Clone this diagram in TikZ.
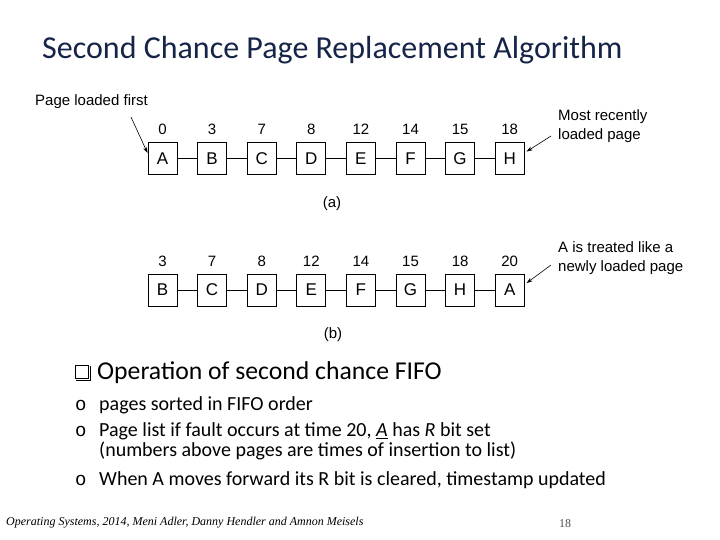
\documentclass[tikz,border=0pt]{standalone}
\usepackage{fontspec}
\setmainfont{Carlito}
\newfontfamily\figfont{Liberation Sans}
\newfontfamily\footfont{Liberation Serif}
\newfontfamily\ringfont{Liberation Mono}
\usetikzlibrary{arrows.meta,positioning}
\definecolor{titleblue}{RGB}{22,36,72}
\newcommand{\mk}{\makebox[24pt][l]{\ringfont\fontsize{19}{19}\selectfont o}}

\begin{document}
\begin{tikzpicture}[x=1pt,y=-1pt,
    >={Stealth[length=6pt,width=4pt]},
    node distance=19.7pt,
    pg/.style={draw,line width=0.9pt,minimum width=29pt,minimum height=32pt,
               inner sep=0pt,font=\figfont\fontsize{17}{17}\selectfont},
    num/.style={inner sep=0pt,font=\figfont\fontsize{15}{15}\selectfont},
    note/.style={inner sep=0pt,align=left,anchor=west,
                 font=\figfont\fontsize{15}{19}\selectfont},
    sub/.style={inner sep=0pt,anchor=base west,font=\fontsize{20}{22}\selectfont},
    figcap/.style={inner sep=0pt,font=\figfont\fontsize{15}{15}\selectfont}]
  \useasboundingbox (0,0) rectangle (720,540);
  \node[inner sep=0pt,anchor=west,text=titleblue,font=\fontsize{32}{32}\selectfont]
    (title) at (42,50) {Second Chance Page Replacement Algorithm};

  % (a) pages in FIFO order
  \node[pg] (a1) at (162.5,158.5) {A}; \node[num,above=7pt of a1] (ta1) {0};
  \node[pg,right=of a1] (a2) {B}; \node[num,above=7pt of a2] (ta2) {3};
  \node[pg,right=of a2] (a3) {C}; \node[num,above=7pt of a3] (ta3) {7};
  \node[pg,right=of a3] (a4) {D}; \node[num,above=7pt of a4] (ta4) {8};
  \node[pg,right=of a4] (a5) {E}; \node[num,above=7pt of a5] (ta5) {12};
  \node[pg,right=of a5] (a6) {F}; \node[num,above=7pt of a6] (ta6) {14};
  \node[pg,right=of a6] (a7) {G}; \node[num,above=7pt of a7] (ta7) {15};
  \node[pg,right=of a7] (a8) {H}; \node[num,above=7pt of a8] (ta8) {18};
  \draw[line width=0.9pt] (a1) -- (a2) (a2) -- (a3) (a3) -- (a4) (a4) -- (a5)
    (a5) -- (a6) (a6) -- (a7) (a7) -- (a8);
  \node[note] (first) at (35,102) {Page loaded first};
  \coordinate (firstend) at (131,117);
  \draw[->,line width=0.6pt] (firstend) -- (a1.160);
  \node[note] (recent) at (558,126.5) {Most recently\\loaded page};
  \coordinate (recentend) at (551,136);
  \draw[->,line width=0.6pt] (recentend) -- ([xshift=2pt]a8.25);
  \node[figcap] (capa) at (332,204) {(a)};

  % (b) A gets its second chance
  \node[pg] (b1) at (162.5,290) {B}; \node[num,above=7pt of b1] (tb1) {3};
  \node[pg,right=of b1] (b2) {C}; \node[num,above=7pt of b2] (tb2) {7};
  \node[pg,right=of b2] (b3) {D}; \node[num,above=7pt of b3] (tb3) {8};
  \node[pg,right=of b3] (b4) {E}; \node[num,above=7pt of b4] (tb4) {12};
  \node[pg,right=of b4] (b5) {F}; \node[num,above=7pt of b5] (tb5) {14};
  \node[pg,right=of b5] (b6) {G}; \node[num,above=7pt of b6] (tb6) {15};
  \node[pg,right=of b6] (b7) {H}; \node[num,above=7pt of b7] (tb7) {18};
  \node[pg,right=of b7] (b8) {A}; \node[num,above=7pt of b8] (tb8) {20};
  \draw[line width=0.9pt] (b1) -- (b2) (b2) -- (b3) (b3) -- (b4) (b4) -- (b5)
    (b5) -- (b6) (b6) -- (b7) (b7) -- (b8);
  \node[note] (again) at (558,258) {A is treated like a\\newly loaded page};
  \coordinate (againend) at (551,265);
  \draw[->,line width=0.6pt] (againend) -- ([xshift=2pt]b8.25);
  \node[figcap] (capb) at (333,335) {(b)};

  % bullets
  \node[draw,line width=0.8pt,minimum size=13pt,inner sep=0pt] (qb) at (82,372) {};
  \draw[line width=1.6pt] ([xshift=1.5pt,yshift=-1pt]qb.north east)
    -- ([xshift=1.5pt,yshift=-1.5pt]qb.south east)
    -- ([xshift=1pt,yshift=-1.5pt]qb.south west);
  \node[inner sep=0pt,anchor=west,font=\fontsize{25.7}{26}\selectfont]
    (head) at (97,373) {Operation of second chance FIFO};
  \node[sub] (s1) at (75,410) {\mk pages sorted in FIFO order};
  \node[sub] (s2) at (75,436.5) {\mk Page list if fault occurs at time 20,
    \underline{\textit{A}} has \textit{R} bit set};
  \node[sub] (s3) at (99,456.5) {(numbers above pages are times of insertion to list)};
  \node[sub] (s4) at (75,485.5) {\mk When A moves forward its R bit is cleared,
    timestamp updated};

  \node[inner sep=0pt,anchor=west,font=\footfont\itshape\fontsize{12}{12}\selectfont]
    (foot) at (6,523) {Operating Systems, 2014, Meni Adler, Danny Hendler and Amnon Meisels};
  \node[inner sep=0pt,text=black!70,font=\footfont\fontsize{12}{12}\selectfont]
    (page) at (565,524) {18};
\end{tikzpicture}
\end{document}
